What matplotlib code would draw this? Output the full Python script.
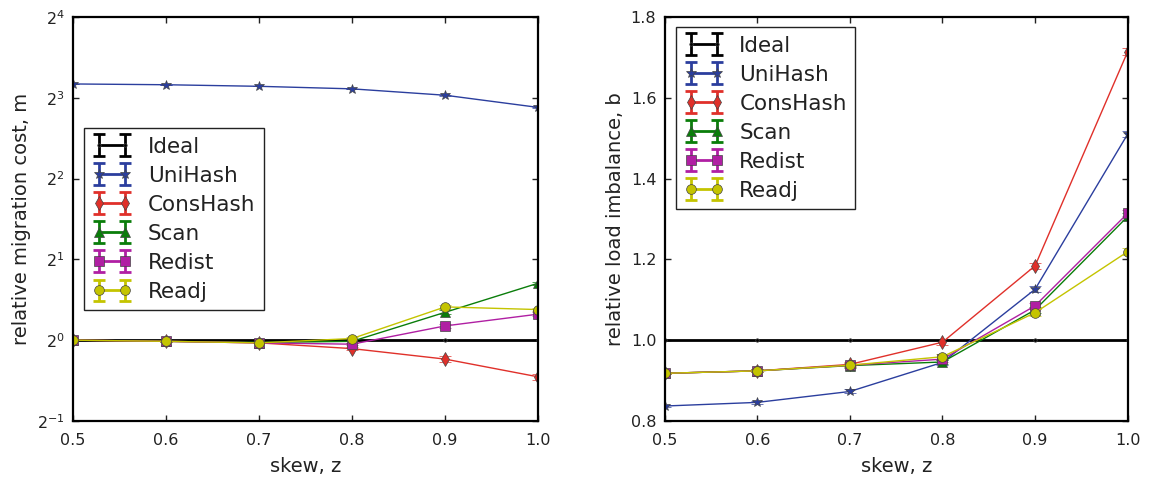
import matplotlib
matplotlib.use("Agg")
import matplotlib.pyplot as plt
import matplotlib.ticker as mticker
from matplotlib.collections import LineCollection
from matplotlib.lines import Line2D

# skew values on the x axis
skew = [0.5, 0.6, 0.7, 0.8, 0.9, 1.0]

# relative migration cost m (log2 axis)
mig_ideal = [1.0, 1.0, 1.0, 1.0, 1.0, 1.0]
mig_unihash = [9.0, 8.94, 8.82, 8.63, 8.17, 7.36]
mig_conshash = [1.0, 0.99, 0.977, 0.93, 0.85, 0.73]
mig_scan = [1.0, 0.99, 0.98, 0.99, 1.27, 1.63]
mig_redist = [1.0, 0.99, 0.977, 0.966, 1.13, 1.25]
mig_readj = [1.0, 0.99, 0.977, 1.014, 1.33, 1.30]
mig_err = [0.0, 0.005, 0.005, 0.01, 0.02, 0.02]

# relative load imbalance b
imb_ideal = [1.0, 1.0, 1.0, 1.0, 1.0, 1.0]
imb_unihash = [0.837, 0.846, 0.873, 0.945, 1.126, 1.51]
imb_conshash = [0.918, 0.924, 0.940, 0.995, 1.184, 1.714]
imb_scan = [0.918, 0.924, 0.937, 0.946, 1.075, 1.306]
imb_redist = [0.918, 0.924, 0.938, 0.953, 1.085, 1.314]
imb_readj = [0.918, 0.924, 0.938, 0.959, 1.068, 1.219]
imb_err = [0.002, 0.004, 0.005, 0.006, 0.008, 0.008]

NAMES = ["Ideal", "UniHash", "ConsHash", "Scan", "Redist", "Readj"]
COLORS = ["#000000", "#2b3e9e", "#e0302a", "#0a7d0a", "#b01fa3", "#c4c400"]
MARKERS = [".", "*", "d", "^", "s", "o"]
MSIZE = [5, 7, 7, 7, 7, 7]

TEXT = "#222222"
plt.rcParams["font.family"] = "DejaVu Sans"
plt.rcParams["text.color"] = TEXT
plt.rcParams["axes.labelcolor"] = TEXT
plt.rcParams["xtick.color"] = TEXT
plt.rcParams["ytick.color"] = TEXT


def draw_panel(ax, series, err):
    for i, (name, ys) in enumerate(zip(NAMES, series)):
        yerr = [0.0] * len(ys) if name == "Ideal" else err
        ax.errorbar(skew, ys, yerr=yerr, color=COLORS[i], ecolor=COLORS[i],
                    marker=MARKERS[i], markersize=MSIZE[i],
                    markerfacecolor=COLORS[i], markeredgecolor="#444444",
                    markeredgewidth=0.5, linewidth=2 if name == "Ideal" else 1,
                    capsize=4, elinewidth=1, label=name)
    ax.set_xlim(0.5, 1.0)
    ax.xaxis.set_major_locator(mticker.MultipleLocator(0.1))
    ax.xaxis.set_major_formatter(mticker.FormatStrFormatter("%.1f"))
    ax.set_xlabel("skew, z", fontsize=14, labelpad=6)
    ax.tick_params(direction="in", top=True, right=True, length=4,
                   width=1, labelsize=11.5, pad=9)
    ax.tick_params(axis="y", pad=6)
    for s in ax.spines.values():
        s.set_linewidth(1.6)


fig = plt.figure(figsize=(11.5, 4.82), dpi=100)
ax1 = fig.add_axes([0.0635, 0.1266, 0.4045, 0.8384])
ax2 = fig.add_axes([0.578, 0.1266, 0.4026, 0.8384])

draw_panel(ax1, [mig_ideal, mig_unihash, mig_conshash, mig_scan,
                 mig_redist, mig_readj], mig_err)
ax1.set_yscale("log", base=2)
ax1.set_ylim(0.5, 16)
ax1.yaxis.set_major_locator(mticker.LogLocator(base=2, numticks=10))
ax1.yaxis.set_minor_locator(mticker.NullLocator())
ax1.set_ylabel("relative migration cost, m", fontsize=14)

draw_panel(ax2, [imb_ideal, imb_unihash, imb_conshash, imb_scan,
                 imb_redist, imb_readj], imb_err)
ax2.set_ylim(0.8, 1.8)
ax2.yaxis.set_major_locator(mticker.MultipleLocator(0.2))
ax2.yaxis.set_major_formatter(mticker.FormatStrFormatter("%.1f"))
ax2.set_ylabel("relative load imbalance, b", fontsize=14)

for ax, anchor in [(ax1, (0.024, 0.725)), (ax2, (0.024, 0.975))]:
    leg = ax.legend(loc="upper left", bbox_to_anchor=anchor, borderaxespad=0,
                    fontsize=15.5, numpoints=2, handlelength=1.8,
                    fancybox=False, framealpha=1, edgecolor="#222222",
                    labelspacing=0.42, handletextpad=0.75, borderpad=0.4)
    leg.get_frame().set_linewidth(1.0)
    # thicker lines, bars and caps in the legend keys
    for art in leg.findobj():
        if isinstance(art, LineCollection):
            art.set_linewidth(2)
        elif isinstance(art, Line2D):
            if art.get_marker() in ("_", "|"):
                art.set_markeredgewidth(2)
            else:
                art.set_linewidth(2)

fig.savefig("out.png", dpi=100, facecolor="white")
